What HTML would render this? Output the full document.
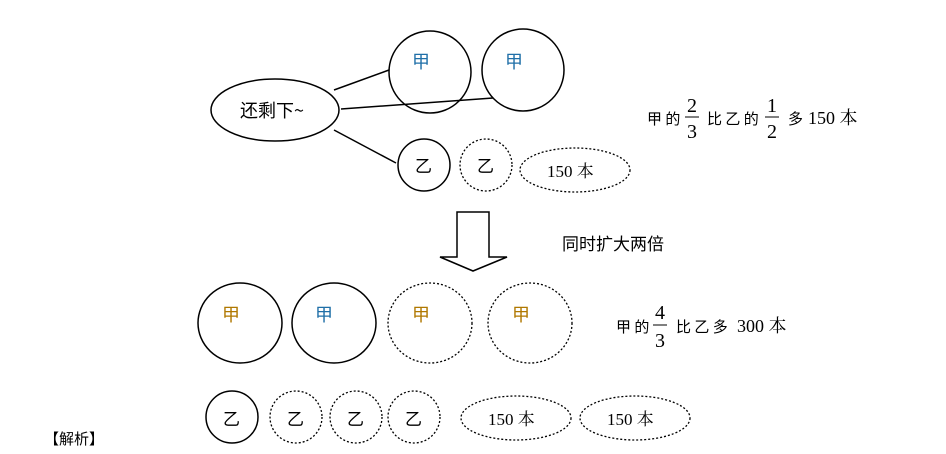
<!DOCTYPE html>
<html><head><meta charset="utf-8"><style>
html,body{margin:0;padding:0;background:#fff}
svg{display:block}
text{font-family:"Liberation Serif","Noto Serif CJK SC","Noto Sans CJK SC",serif;fill:#000}
.c{font-family:"Noto Sans CJK SC","WenQuanYi Zen Hei",sans-serif}
</style></head><body>
<svg width="946" height="454" viewBox="0 0 946 454" xmlns="http://www.w3.org/2000/svg">
<g fill="none" stroke="#000" stroke-width="1.5">
<ellipse cx="275" cy="110" rx="64" ry="31"/>
<circle cx="430" cy="72" r="41"/>
<circle cx="523" cy="70" r="41"/>
<line x1="334" y1="90" x2="389" y2="70"/>
<line x1="341" y1="109" x2="493" y2="98"/>
<line x1="334" y1="130" x2="396" y2="163"/>
<circle cx="424" cy="165" r="26"/>
</g>
<g fill="none" stroke="#000" stroke-width="1.3" stroke-dasharray="2,2">
<circle cx="486" cy="165" r="26"/>
<ellipse cx="575" cy="170" rx="55" ry="22"/>
<ellipse cx="430" cy="323" rx="42" ry="40"/>
<ellipse cx="530" cy="323" rx="42" ry="40"/>
<circle cx="296" cy="417" r="26"/>
<circle cx="356" cy="417" r="26"/>
<circle cx="414" cy="417" r="26"/>
<ellipse cx="516" cy="418" rx="55" ry="22"/>
<ellipse cx="635" cy="418" rx="55" ry="22"/>
</g>
<g fill="none" stroke="#000" stroke-width="1.5">
<ellipse cx="240" cy="323" rx="42" ry="40"/>
<ellipse cx="334" cy="323" rx="42" ry="40"/>
<circle cx="232" cy="417" r="26"/>
<polygon points="457,212 489,212 489,257 507,257 473,271 440,257 457,257"/>
</g>
<text class="c" x="240" y="117" font-size="18">还剩下~</text>
<text class="c" x="412" y="68" font-size="18" style="fill:#1f6fa8">甲</text>
<text class="c" x="505" y="68" font-size="18" style="fill:#1f6fa8">甲</text>
<text class="c" x="415" y="172" font-size="17">乙</text>
<text class="c" x="477" y="172" font-size="17">乙</text>
<text x="547" y="177" font-size="17">150 本</text>
<text class="c" x="562" y="250" font-size="17">同时扩大两倍</text>
<text class="c" x="222" y="321" font-size="18" style="fill:#b07800">甲</text>
<text class="c" x="315" y="321" font-size="18" style="fill:#1f6fa8">甲</text>
<text class="c" x="412" y="321" font-size="18" style="fill:#b07800">甲</text>
<text class="c" x="512" y="321" font-size="18" style="fill:#b07800">甲</text>
<text class="c" x="223" y="425" font-size="17">乙</text>
<text class="c" x="287" y="425" font-size="17">乙</text>
<text class="c" x="347" y="425" font-size="17">乙</text>
<text class="c" x="405" y="425" font-size="17">乙</text>
<text x="488" y="425" font-size="17">150 本</text>
<text x="607" y="425" font-size="17">150 本</text>
<text class="c" x="44" y="444" font-size="15">【解析】</text>
<text class="c" x="647" y="124" font-size="15">甲 的</text>
<text x="692" y="112" font-size="20" text-anchor="middle">2</text>
<line x1="685" y1="117" x2="699" y2="117" stroke="#000" stroke-width="1"/>
<text x="692" y="138" font-size="20" text-anchor="middle">3</text>
<text class="c" x="707" y="124" font-size="15">比 乙 的</text>
<text x="772" y="112" font-size="20" text-anchor="middle">1</text>
<line x1="765" y1="117" x2="779" y2="117" stroke="#000" stroke-width="1"/>
<text x="772" y="138" font-size="20" text-anchor="middle">2</text>
<text class="c" x="788" y="124" font-size="15">多</text>
<text x="808" y="124" font-size="18">150 本</text>
<text class="c" x="616" y="332" font-size="15">甲 的</text>
<text x="660" y="319" font-size="20" text-anchor="middle">4</text>
<line x1="653" y1="325" x2="667" y2="325" stroke="#000" stroke-width="1"/>
<text x="660" y="347" font-size="20" text-anchor="middle">3</text>
<text class="c" x="676" y="332" font-size="15">比 乙 多</text>
<text x="737" y="332" font-size="18">300 本</text>
</svg>
</body></html>
